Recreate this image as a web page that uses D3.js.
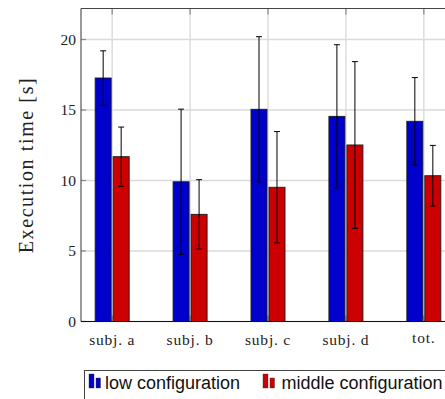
<!DOCTYPE html>
<html>
<head>
<meta charset="utf-8">
<script src="https://cdn.jsdelivr.net/npm/d3@7"></script>
<style>
  html, body { margin: 0; padding: 0; background: #fff; overflow: hidden; }
  svg { display: block; }
</style>
</head>
<body>
<svg id="chart" width="445" height="399"></svg>
<script>
// Execution time per subject, mean and spread
const categories = ["subj. a", "subj. b", "subj. c", "subj. d", "tot."];
const seriesNames = ["low configuration", "middle configuration"];
const lowMean   = [17.27, 9.91, 15.05, 14.55, 14.20];
const lowErr    = [1.93, 5.15, 5.15, 5.08, 3.10];
const midMean   = [11.69, 7.60, 9.52, 12.52, 10.34];
const midErr    = [2.10, 2.46, 3.95, 5.91, 2.15];
const yTicks    = [0, 5, 10, 15, 20];
const seriesColors = ["#0000cc", "#cc0000"];

const svg = d3.select("#chart");
const plot = { left: 81, right: 455, top: 8.5, bottom: 321.5 };

const x = d3.scalePoint().domain(categories).range([plot.left, plot.right]).padding(0.4);
const inner = d3.scaleBand().domain(seriesNames).range([-17, 17]).paddingInner(0.111);
const y = d3.scaleLinear().domain([0, 22.2]).range([plot.bottom, plot.top]);

const serif = "'Liberation Serif', 'Times New Roman', serif";
const sans = "'Liberation Sans', Arial, sans-serif";

// grid
const grid = svg.append("g").attr("stroke", "#dadada").attr("stroke-width", 1.4);
grid.selectAll("line.h").data(yTicks).join("line")
  .attr("x1", plot.left).attr("x2", plot.right)
  .attr("y1", d => y(d)).attr("y2", d => y(d));
grid.selectAll("line.v").data(categories).join("line")
  .attr("x1", d => x(d)).attr("x2", d => x(d))
  .attr("y1", plot.top).attr("y2", plot.bottom);

// tick marks on the frame
const ticks = svg.append("g").attr("stroke", "#8a8a8a").attr("stroke-width", 1.2);
ticks.selectAll("line.yt").data(yTicks).join("line")
  .attr("x1", plot.left).attr("x2", plot.left + 5)
  .attr("y1", d => y(d)).attr("y2", d => y(d));
ticks.selectAll("line.xt").data(categories).join("line")
  .attr("x1", d => x(d)).attr("x2", d => x(d))
  .attr("y1", plot.top).attr("y2", plot.top + 6);
ticks.selectAll("line.xb").data(categories).join("line")
  .attr("x1", d => x(d)).attr("x2", d => x(d))
  .attr("y1", plot.bottom).attr("y2", plot.bottom - 6);

// bars
const series = [
  { name: seriesNames[0], mean: lowMean, err: lowErr, color: seriesColors[0] },
  { name: seriesNames[1], mean: midMean, err: midErr, color: seriesColors[1] }
];
series.forEach(s => {
  const rows = categories.map((c, i) => ({ c, v: s.mean[i], e: s.err[i] }));
  const g = svg.append("g");
  g.selectAll("rect").data(rows).join("rect")
    .attr("x", d => x(d.c) + inner(s.name))
    .attr("width", inner.bandwidth())
    .attr("y", d => y(d.v))
    .attr("height", d => y(0) - y(d.v))
    .attr("fill", s.color)
    .attr("stroke", "#1a1a1a").attr("stroke-width", 0.9);
  const cx = d => x(d.c) + inner(s.name) + inner.bandwidth() / 2;
  const eb = g.append("g").attr("stroke", "#000").attr("stroke-width", 1);
  eb.selectAll("line.stem").data(rows).join("line")
    .attr("x1", cx).attr("x2", cx)
    .attr("y1", d => y(d.v + d.e)).attr("y2", d => y(d.v - d.e));
  eb.selectAll("line.capt").data(rows).join("line")
    .attr("x1", d => cx(d) - 3).attr("x2", d => cx(d) + 3)
    .attr("y1", d => y(d.v + d.e)).attr("y2", d => y(d.v + d.e));
  eb.selectAll("line.capb").data(rows).join("line")
    .attr("x1", d => cx(d) - 3).attr("x2", d => cx(d) + 3)
    .attr("y1", d => y(d.v - d.e)).attr("y2", d => y(d.v - d.e));
});

// frame
svg.append("line").attr("x1", plot.left).attr("x2", plot.left)
  .attr("y1", plot.top).attr("y2", plot.bottom)
  .attr("stroke", "#555").attr("stroke-width", 1.2);
svg.append("line").attr("x1", plot.left).attr("x2", plot.right)
  .attr("y1", plot.top).attr("y2", plot.top)
  .attr("stroke", "#444").attr("stroke-width", 1.2);
svg.append("line").attr("x1", plot.left).attr("x2", plot.right)
  .attr("y1", plot.bottom).attr("y2", plot.bottom)
  .attr("stroke", "#111").attr("stroke-width", 1.2);

// y tick labels
svg.append("g").selectAll("text").data(yTicks).join("text")
  .attr("x", plot.left - 5).attr("y", d => y(d) + 5)
  .attr("text-anchor", "end")
  .attr("font-family", serif).attr("font-size", 15.5)
  .attr("fill", "#222")
  .text(d => d);

// x tick labels
svg.append("g").selectAll("text").data(categories).join("text")
  .attr("x", d => x(d)).attr("y", d => d === "tot." ? 342.5 : 345)
  .attr("text-anchor", "middle")
  .attr("font-family", serif).attr("font-size", 15.5)
  .attr("letter-spacing", 0.8)
  .attr("fill", "#222")
  .text(d => d);

// y axis title
svg.append("text")
  .attr("transform", `translate(33, ${(plot.top + plot.bottom) / 2}) rotate(-90)`)
  .attr("text-anchor", "middle")
  .attr("font-family", serif).attr("font-size", 20)
  .attr("letter-spacing", 1.6)
  .attr("fill", "#222")
  .text("Execution time [s]");

// legend
const legend = svg.append("g");
legend.append("rect")
  .attr("x", 84.5).attr("y", 370.5).attr("width", 420).attr("height", 60)
  .attr("fill", "#fff").attr("stroke", "#444").attr("stroke-width", 1);
const legendIconX = [89, 263];
const legendTextX = [105, 281.5];
series.forEach((s, i) => {
  const gx = legendIconX[i];
  const li = legend.append("g");
  li.append("rect").attr("x", gx).attr("y", 374).attr("width", 5).attr("height", 14)
    .attr("fill", s.color).attr("stroke", "#333").attr("stroke-width", 0.4);
  li.append("rect").attr("x", gx + 7).attr("y", 378).attr("width", 4.5).attr("height", 10)
    .attr("fill", s.color).attr("stroke", "#333").attr("stroke-width", 0.4);
  li.append("text").attr("x", legendTextX[i]).attr("y", 388.5)
    .attr("font-family", sans).attr("font-size", 18)
    .attr("fill", "#111")
    .text(s.name);
});
</script>
</body>
</html>
